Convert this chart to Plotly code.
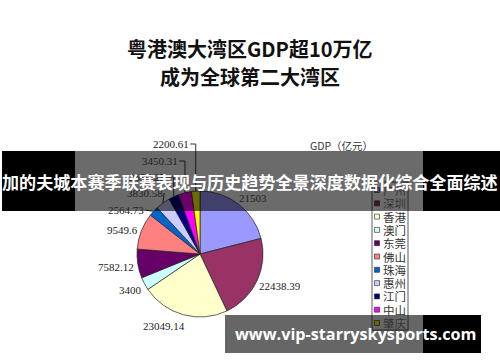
import math
import plotly.graph_objects as go

# ---------------- data ----------------
cities = ["广州", "深圳", "香港", "澳门", "东莞", "佛山", "珠海", "惠州", "江门", "中山", "肇庆"]
gdp = [21503, 22438.39, 23049.14, 3400, 7582.12, 9549.6, 2564.73, 3830.58, 2690.25, 3450.31, 2200.61]
colors = ["#9999FF", "#993366", "#FFFFCC", "#CCFFFF", "#660066", "#FF8080",
          "#0066CC", "#CCCCFF", "#000080", "#FF00FF", "#FFFF00"]
title_lines = ["粤港澳大湾区GDP超10万亿", "成为全球第二大湾区"]
chart_title = "GDP（亿元）"
banner_text = "加的夫城本赛季联赛表现与历史趋势全景深度数据化综合全面综述"
watermark_text = "www.vip-starryskysports.com"

# ---------------- layout helpers ----------------
W, H = 500, 362
def px(x): return x / W
def py(y): return 1 - y / H

def fmt(v):
    return ("%.2f" % v).rstrip("0").rstrip(".")

cx, cy, r = 200, 254, 63
# label centre positions (pixels), one per slice
label_pos = [(253, 198), (280, 286), (164, 326), (130, 290), (116, 267), (122, 230),
             (126, 210), (145, 193), (147, 177), (160, 161), (171, 144)]

fig = go.Figure(go.Pie(
    labels=cities, values=gdp, sort=False, direction="clockwise", rotation=0,
    marker=dict(colors=colors, line=dict(color="#222222", width=0.7)),
    textinfo="none", hoverinfo="label+value", showlegend=False,
    domain=dict(x=[px(cx - r), px(cx + r)], y=[py(cy + r), py(cy - r)]),
))

annotations = []
shapes = []

def text(t, x, y, size, color, family="Noto Sans CJK SC", xanchor="center", weight="normal"):
    annotations.append(dict(text=t, x=px(x), y=py(y), xref="paper", yref="paper",
                            showarrow=False, xanchor=xanchor, yanchor="middle",
                            font=dict(family=family, size=size, color=color, weight=weight)))

# titles
text(title_lines[0], 250, 48, 20, "#111", weight="bold")
text(title_lines[1], 250, 76, 20, "#111", weight="bold")
text(chart_title, 341, 145, 10.5, "#333")

# value labels + leader lines (computed from slice angles)
total = sum(gdp)
cum = 0
for i, v in enumerate(gdp):
    mid = (cum + v / 2) / total * 2 * math.pi
    cum += v
    lx, ly = label_pos[i]
    txt = fmt(v)
    text(txt, lx, ly, 11, "#222", family="Liberation Serif")
    ax, ay = cx + r * math.sin(mid), cy - r * math.cos(mid)
    right = lx + len(txt) * 2.6 + 1
    if i in (8, 9, 10):
        shapes.append(dict(type="line", xref="paper", yref="paper", x0=px(right), y0=py(ly),
                           x1=px(ax), y1=py(ly), line=dict(color="#333", width=1)))
        shapes.append(dict(type="line", xref="paper", yref="paper", x0=px(ax), y0=py(ly),
                           x1=px(ax), y1=py(ay), line=dict(color="#333", width=1)))
    elif i in (6, 7):
        shapes.append(dict(type="line", xref="paper", yref="paper", x0=px(right), y0=py(ly),
                           x1=px(ax), y1=py(ay), line=dict(color="#333", width=1)))

# manual legend
leg_top, leg_step = 190, 13.3
shapes.append(dict(type="rect", xref="paper", yref="paper", x0=px(372), x1=px(408),
                   y0=py(leg_top - 8), y1=py(leg_top + leg_step * (len(cities) - 1) + 7),
                   line=dict(color="#333", width=0.8), fillcolor="white"))
for i, c in enumerate(cities):
    yy = leg_top + i * leg_step
    shapes.append(dict(type="rect", xref="paper", yref="paper", x0=px(374.5), x1=px(379.5),
                       y0=py(yy + 2.5), y1=py(yy - 2.5), line=dict(color="#222", width=0.6),
                       fillcolor=colors[i]))
    text(c, 381, yy, 11.5, "#333", xanchor="left")

# overlay boxes
def box(x0, x1, y0, y1, color):
    shapes.append(dict(type="rect", xref="paper", yref="paper", x0=px(x0), x1=px(x1),
                       y0=py(y1), y1=py(y0), fillcolor=color, line=dict(width=0), layer="above"))

box(2, 75, 151, 211, "#000000")
box(75, 423, 151, 211, "rgba(0,0,0,0.58)")
box(423, 500, 151, 211, "#000000")
text(banner_text, 250, 181, 17.1, "white", weight="bold")

box(225, 423, 315, 353, "rgba(0,0,0,0.6)")
box(423, 481, 315, 353, "#000000")
text(watermark_text, 355, 334, 16.2, "white", family="Open Sans", weight="bold")

fig.update_layout(width=W, height=H, margin=dict(l=0, r=0, t=0, b=0),
                  paper_bgcolor="white", plot_bgcolor="white",
                  annotations=annotations, shapes=shapes, showlegend=False)
fig.write_html("out.html", config={"displayModeBar": False},
               post_script="document.body.style.margin='0';document.body.style.overflow='hidden';")
